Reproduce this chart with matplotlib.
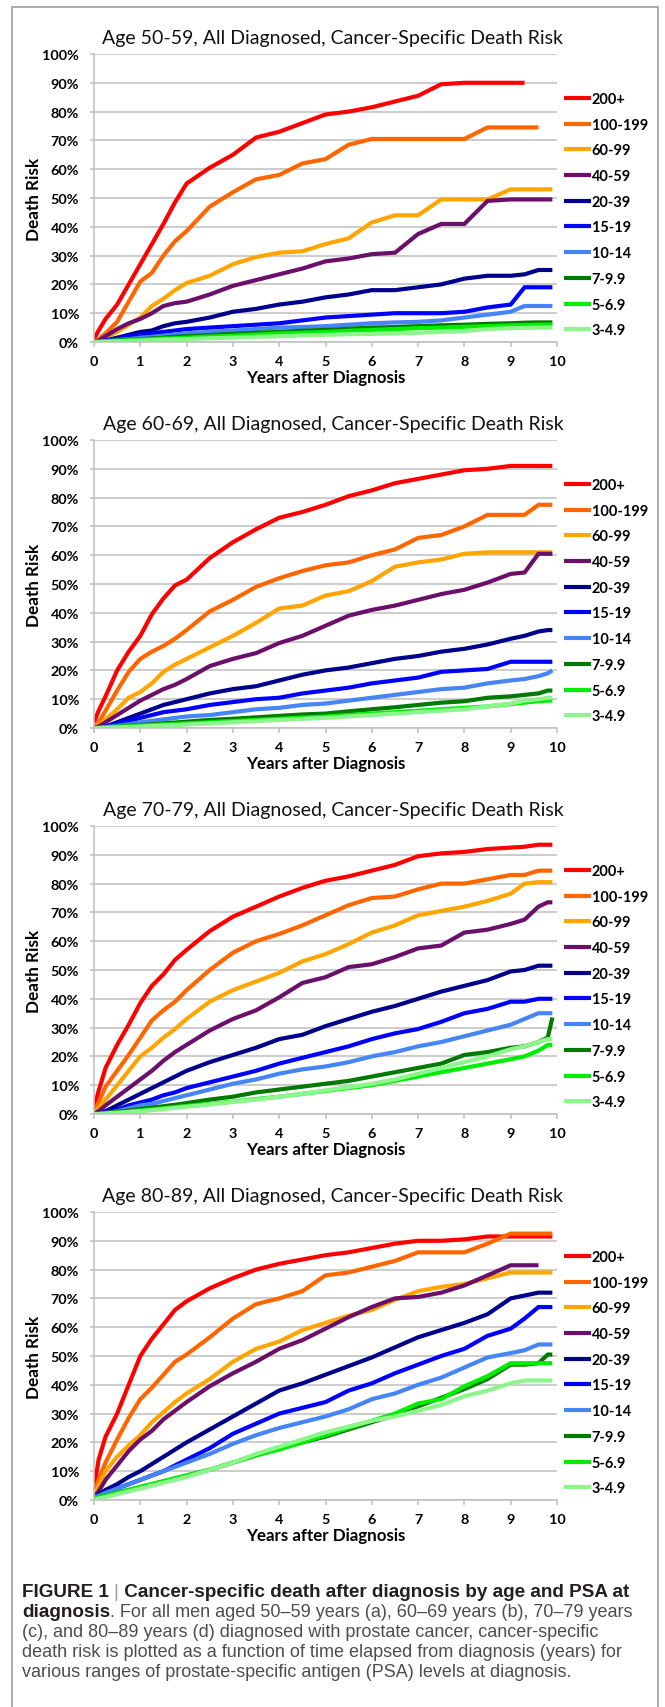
"""
Figure 1 - cancer-specific death risk after diagnosis, by age and PSA.

Four stacked panels (ages 50-59 .. 80-89), one curve per PSA range,
plus the caption box at the bottom.
"""

import matplotlib

matplotlib.use("Agg")
import matplotlib.pyplot as plt
import numpy as np
from matplotlib.patches import Rectangle
from matplotlib.ticker import FuncFormatter, MultipleLocator

W_PX, H_PX, DPI = 665, 1708, 100
nan = np.nan

YEARS = [0, 0.1, 0.25, 0.5, 0.75, 1, 1.25, 1.5, 1.75, 2, 2.5, 3, 3.5, 4, 4.5,
         5, 5.5, 6, 6.5, 7, 7.5, 8, 8.5, 9, 9.3, 9.6, 9.8, 9.9]

PSA_RANGES = ["200+", "100-199", "60-99", "40-59", "20-39", "15-19",
              "10-14", "7-9.9", "5-6.9", "3-4.9"]
COLORS = ["#FF0000", "#FF6600", "#FFA500", "#6B0F6B", "#00008B", "#0000FF",
          "#4585F5", "#007A00", "#00EE00", "#8CF58C"]
AGE_GROUPS = ["50-59", "60-69", "70-79", "80-89"]

# death risk (%) per PSA range, same order as PSA_RANGES
RISK_50_59 = [
    [1, 4, 8, 13, 20, 27, 34, 41, 48.5, 55, 60.5, 65, 71, 73, 76, 79, 80, 81.5, 83.5, 85.5, 89.5, 90, 90, 90, 90, nan, nan, nan],
    [0, 1, 3, 7, 14, 21, 24, 30, 35, 38.5, 47, 52, 56.5, 58, 62, 63.5, 68.5, 70.5, 70.5, 70.5, 70.5, 70.5, 74.5, 74.5, 74.5, 74.5, nan, nan],
    [0, 0.5, 1.5, 3.5, 6, 8.5, 12.5, 15, 18, 20.5, 23, 27, 29.5, 31, 31.5, 34, 36, 41.5, 44, 44, 49.5, 49.5, 49.5, 53, 53, 53, 53, 53],
    [0, 0.5, 2, 4.5, 6.5, 8, 10, 12.5, 13.5, 14, 16.5, 19.5, 21.5, 23.5, 25.5, 28, 29, 30.5, 31, 37.5, 41, 41, 49, 49.5, 49.5, 49.5, 49.5, 49.5],
    [0, 0, 0.5, 1.5, 2.5, 3.5, 4, 5.5, 6.5, 7, 8.5, 10.5, 11.5, 13, 14, 15.5, 16.5, 18, 18, 19, 20, 22, 23, 23, 23.5, 25, 25, 25],
    [0, 0, 0.5, 1, 2, 2.5, 3, 3.5, 4, 4.5, 5, 5.5, 6, 6.5, 7.5, 8.5, 9, 9.5, 10, 10, 10, 10.5, 12, 13, 19, 19, 19, 19],
    [0, 0, 0.3, 0.7, 1, 1.5, 1.8, 2.2, 2.6, 3, 3.5, 4, 4.5, 5, 5.2, 5.5, 6, 6.5, 6.8, 7, 7.5, 8.5, 9.5, 10.5, 12.5, 12.5, 12.5, 12.5],
    [0, 0.1, 0.3, 0.5, 0.8, 1, 1.2, 1.5, 1.8, 2, 2.4, 2.8, 3.2, 3.5, 3.9, 4.2, 4.6, 5, 5.2, 5.5, 5.8, 6, 6.3, 6.5, 6.7, 6.8, 6.8, 6.8],
    [0, 0.1, 0.2, 0.4, 0.6, 0.8, 1, 1.2, 1.3, 1.5, 1.9, 2.2, 2.6, 3, 3.2, 3.5, 3.9, 4.2, 4.5, 4.8, 5, 5.3, 5.5, 5.8, 5.9, 6, 6, 6],
    [0, 0, 0.1, 0.2, 0.4, 0.5, 0.6, 0.8, 0.9, 1, 1.3, 1.5, 1.8, 2, 2.3, 2.5, 2.7, 2.8, 3, 3.2, 3.5, 3.8, 4.5, 4.8, 4.9, 5, 5, 5],
]

RISK_60_69 = [
    [2, 6, 11, 20, 26.5, 32, 39.5, 45, 49.5, 51.5, 59, 64.5, 69, 73, 75, 77.5, 80.5, 82.5, 85, 86.5, 88, 89.5, 90, 91, 91, 91, 91, 91],
    [0, 2, 6, 13, 19.5, 24, 26.5, 28.5, 31, 34, 40.5, 44.5, 49, 52, 54.5, 56.5, 57.5, 60, 62, 66, 67, 70, 74, 74, 74, 77.5, 77.5, 77.5],
    [0, 1, 3, 6.5, 10.5, 12.5, 15.5, 19.5, 22, 24, 28, 32, 36.5, 41.5, 42.5, 46, 47.5, 51, 56, 57.5, 58.5, 60.5, 61, 61, 61, 61, 61, 61],
    [0, 0.5, 2, 4.5, 7, 9.5, 11.5, 13.5, 15, 17, 21.5, 24, 26, 29.5, 32, 35.5, 39, 41, 42.5, 44.5, 46.5, 48, 50.5, 53.5, 54, 60.5, 60.5, 60.5],
    [0, 0, 0.5, 2, 3.5, 5, 6.5, 8, 9, 10, 12, 13.5, 14.5, 16.5, 18.5, 20, 21, 22.5, 24, 25, 26.5, 27.5, 29, 31, 32, 33.5, 34, 34],
    [0, 0, 0.5, 1.5, 2.5, 3.5, 4.5, 5.5, 6, 6.5, 8, 9, 10, 10.5, 12, 13, 14, 15.5, 16.5, 17.5, 19.5, 20, 20.5, 23, 23, 23, 23, 23],
    [0, 0, 0.3, 0.8, 1.3, 2, 2.5, 3, 3.5, 4, 4.5, 5.5, 6.5, 7, 8, 8.5, 9.5, 10.5, 11.5, 12.5, 13.5, 14, 15.5, 16.5, 17, 18, 19, 20],
    [0, 0, 0.2, 0.5, 0.8, 1, 1.3, 1.6, 1.9, 2.2, 2.8, 3.2, 3.7, 4.2, 4.7, 5, 5.8, 6.5, 7.2, 8, 8.8, 9.3, 10.5, 11, 11.5, 12, 13, 13],
    [0, 0, 0.2, 0.4, 0.6, 0.8, 1, 1.2, 1.4, 1.6, 2, 2.4, 2.8, 3.2, 3.6, 4, 4.5, 5, 5.5, 6, 6.5, 7, 7.5, 8.3, 8.8, 9.3, 9.5, 9.5],
    [0, 0, 0.1, 0.2, 0.4, 0.5, 0.7, 0.9, 1, 1.2, 1.6, 2, 2.4, 2.8, 3.2, 3.5, 4, 4.5, 5, 5.5, 6, 6.5, 7.5, 8.5, 9.5, 10, 10.5, 10.5],
]

RISK_70_79 = [
    [2, 8, 16, 24, 31, 38.5, 44.5, 48.5, 53.5, 57, 63.5, 68.5, 72, 75.5, 78.5, 81, 82.5, 84.5, 86.5, 89.5, 90.5, 91, 92, 92.5, 92.8, 93.5, 93.5, 93.5],
    [1, 4, 9.5, 15, 20.5, 26.5, 32.5, 36, 39, 43, 50, 56, 60, 62.5, 65.5, 69, 72.5, 75, 75.5, 78, 80, 80, 81.5, 83, 83, 84.5, 84.5, 84.5],
    [0.5, 2, 5, 10, 15, 20, 23, 26.5, 29.5, 33, 39, 43, 46, 49, 53, 55.5, 59, 63, 65.5, 69, 70.5, 72, 74, 76.5, 80, 80.5, 80.5, 80.5],
    [0, 1, 3, 6, 9, 12, 15, 18.5, 21.5, 24, 29, 33, 36, 40.5, 45.5, 47.5, 51, 52, 54.5, 57.5, 58.5, 63, 64, 66, 67.5, 72, 73.5, 73.5],
    [0, 0, 1, 3, 5, 7, 9, 11, 13, 15, 18, 20.5, 23, 26, 27.5, 30.5, 33, 35.5, 37.5, 40, 42.5, 44.5, 46.5, 49.5, 50, 51.5, 51.5, 51.5],
    [0, 0, 0.5, 1.5, 3, 4, 5, 6.5, 7.5, 9, 11, 13, 15, 17.5, 19.5, 21.5, 23.5, 26, 28, 29.5, 32, 35, 36.5, 39, 39, 40, 40, 40],
    [0, 0, 0.3, 1, 2, 3, 3.5, 4.5, 5.5, 6.5, 8.5, 10.5, 12, 14, 15.5, 16.5, 18, 20, 21.5, 23.5, 25, 27, 29, 31, 33, 35, 35, 35],
    [0, 0, 0.3, 0.8, 1.2, 1.7, 2.2, 2.7, 3.2, 3.8, 5, 6, 7.5, 8.5, 9.5, 10.5, 11.5, 13, 14.5, 16, 17.5, 20.5, 21.5, 23, 23.5, 25, 26.5, 33.5],
    [0, 0, 0.2, 0.5, 0.8, 1.2, 1.6, 2, 2.4, 2.8, 3.5, 4.3, 5.2, 6, 7, 8, 9, 10, 11.5, 13, 14.5, 16, 17.5, 19, 20, 22, 24, 24],
    [0, 0, 0.2, 0.4, 0.7, 1, 1.3, 1.7, 2.1, 2.5, 3.3, 4.2, 5, 6, 7, 8.2, 9.3, 10.5, 12, 14, 16, 18, 20, 22.5, 23.5, 25, 26, 26],
]

RISK_80_89 = [
    [4, 14, 22, 30, 40, 50, 56, 61, 66, 69, 73.5, 77, 80, 82, 83.5, 85, 86, 87.5, 89, 90, 90, 90.5, 91.5, 91.5, 91.5, 91.5, 91.5, 91.5],
    [2, 7, 13, 21, 28.5, 35, 39, 43.5, 48, 50.5, 56.5, 63, 68, 70, 72.5, 78, 79, 81, 83, 86, 86, 86, 89, 92.5, 92.5, 92.5, 92.5, 92.5],
    [1, 5, 10, 15, 19, 22.5, 27, 30.5, 34, 37, 42, 48, 52.5, 55, 59, 61.5, 64, 66, 69.5, 72.5, 74, 75, 77, 79, 79, 79, 79, 79],
    [1, 3, 7, 12, 17, 21, 24, 28, 31, 34, 39.5, 44, 48, 52.5, 55.5, 59.5, 63.5, 67, 70, 70.5, 72, 74.5, 78, 81.5, 81.5, 81.5, nan, nan],
    [1, 2, 3.5, 5.5, 8, 10, 12.5, 15, 17.5, 20, 24.5, 29, 33.5, 38, 40.5, 43.5, 46.5, 49.5, 53, 56.5, 59, 61.5, 64.5, 70, 71, 72, 72, 72],
    [1, 1.5, 2.5, 4, 5.5, 7, 8.5, 10, 12, 14, 18, 23, 26.5, 30, 32, 34, 38, 40.5, 44, 47, 50, 52.5, 57, 59.5, 63, 67, 67, 67],
    [1, 1.5, 2.5, 4, 5.5, 7, 8.5, 10, 11.5, 13, 16, 19.5, 22.5, 25, 27, 29, 31.5, 35, 37, 40, 42.5, 46, 49.5, 51, 52, 54, 54, 54],
    [0.5, 1, 1.5, 2.5, 3.5, 4.5, 5.5, 6.5, 7.5, 8.5, 10.5, 13, 15.5, 18, 20, 22, 24.5, 27, 29.5, 32.5, 35.5, 38.5, 42, 47, 47, 47.5, 50.5, 50.5],
    [0.5, 1, 1.5, 2.5, 3.5, 4.5, 5.5, 6.5, 7.5, 8.5, 10.5, 13, 15.5, 17.5, 20, 22.5, 25, 27.5, 30, 33.5, 35, 39.5, 43, 47.5, 47.5, 47.5, 47.5, 47.5],
    [0, 0.5, 1, 2, 3, 4, 5, 6, 7, 8, 10.5, 13, 16, 18.5, 21, 23.5, 25.5, 27.5, 29, 31, 33, 36, 38, 40.5, 41.5, 41.5, 41.5, 41.5],
]

RISKS = [RISK_50_59, RISK_60_69, RISK_70_79, RISK_80_89]

CAPTION = [
    [("FIGURE 1", "bold", "#231F20"), (" |", "normal", "#9A9A9A"),
     (" Cancer-specific death after diagnosis by age and PSA at", "bold", "#231F20")],
    [("diagnosis", "bold", "#231F20"),
     (". For all men aged 50\u201359 years (a), 60\u201369 years (b), 70\u201379 years", "normal", "#4D4D4D")],
    [("(c), and 80\u201389 years (d) diagnosed with prostate cancer, cancer-specific", "normal", "#4D4D4D")],
    [("death risk is plotted as a function of time elapsed from diagnosis (years) for", "normal", "#4D4D4D")],
    [("various ranges of prostate-specific antigen (PSA) levels at diagnosis.", "normal", "#4D4D4D")],
]

CHART_FONT = "Lato"
CAPTION_FONT = "Liberation Sans"
GRID_GRAY = "#BFBFBF"
PANEL_TOP, PANEL_STEP, PANEL_H = 55, 386, 288
AX_LEFT, AX_W = 94, 463


def px_box(left, top, width, height):
    """Pixel box (from the top-left corner) -> figure fraction rect."""
    return [left / W_PX, 1 - (top + height) / H_PX, width / W_PX, height / H_PX]


def fitted_size(fig, text, target_px, **font):
    """Font size (pt) that makes `text` about target_px wide."""
    probe = fig.text(0, 0, text, fontsize=10, **font)
    width = probe.get_window_extent(fig.canvas.get_renderer()).width
    probe.remove()
    return 10 * target_px / width


def add_legend(fig, ax, lines, size):
    """Legend at the right of the panel, rows 25.7 px apart."""
    fs_px = size * DPI / 72
    spacing, anchor_y = 0.6, 1 - 159.5 / PANEL_H
    opts = dict(loc="center left", frameon=False, borderpad=0, borderaxespad=0,
                handlelength=27 / fs_px, handletextpad=0.05,
                prop={"family": CHART_FONT, "weight": "bold", "size": size})
    for _ in range(3):
        leg = ax.legend(handles=lines, bbox_to_anchor=(470 / AX_W, anchor_y),
                        labelspacing=spacing, **opts)
        fig.canvas.draw()
        boxes = [t.get_window_extent() for t in leg.get_texts()]
        centers = [0.5 * (b.y0 + b.y1) for b in boxes]
        pitch = (centers[0] - centers[-1]) / (len(centers) - 1)
        spacing += (25.7 - pitch) / fs_px
        ax_box = ax.get_window_extent()
        anchor_y += (ax_box.y1 - 45 - centers[0]) / ax_box.height
    ax.legend(handles=lines, bbox_to_anchor=(470 / AX_W, anchor_y),
              labelspacing=spacing, **opts)


def draw_panel(fig, index, sizes):
    top = PANEL_TOP + PANEL_STEP * index
    ax = fig.add_axes(px_box(AX_LEFT, top, AX_W, PANEL_H))

    lines = []
    for label, color, values in zip(PSA_RANGES, COLORS, RISKS[index]):
        (line,) = ax.plot(YEARS, values, color=color, lw=3.0, label=label,
                          solid_joinstyle="miter", solid_capstyle="butt")
        lines.append(line)

    ax.set_xlim(0, 10)
    ax.set_ylim(0, 100)
    ax.xaxis.set_major_locator(MultipleLocator(1))
    ax.yaxis.set_major_locator(MultipleLocator(10))
    ax.yaxis.set_major_formatter(FuncFormatter(lambda v, _: f"{v:.0f}%"))
    ax.yaxis.grid(True, color=GRID_GRAY, lw=1.1)
    ax.set_axisbelow(True)

    for side in ("top", "right"):
        ax.spines[side].set_visible(False)
    for side in ("left", "bottom"):
        ax.spines[side].set_color(GRID_GRAY)
        ax.spines[side].set_linewidth(1.1)

    ax.tick_params(axis="y", length=2.9, width=1.1, color=GRID_GRAY, pad=7.9)
    ax.tick_params(axis="x", length=3.6, width=1.1, color=GRID_GRAY, pad=6.0)
    for lab in ax.get_xticklabels() + ax.get_yticklabels():
        lab.set_fontfamily(CHART_FONT)
        lab.set_fontweight("bold")
        lab.set_fontsize(sizes["tick"])

    ax.set_title(f"Age {AGE_GROUPS[index]}, All Diagnosed, Cancer-Specific Death Risk",
                 x=0.516, pad=7.6, fontsize=sizes["title"], family=CHART_FONT,
                 color="#111111")
    ax.set_xlabel("Years after Diagnosis", family=CHART_FONT, fontweight="bold",
                  fontsize=sizes["xlabel"], va="center")
    ax.xaxis.set_label_coords(0.5, -35 / PANEL_H)
    ax.set_ylabel("Death Risk", family=CHART_FONT, fontweight="bold",
                  fontsize=sizes["ylabel"], va="center")
    ax.yaxis.set_label_coords(-60 / AX_W, 0.5)

    add_legend(fig, ax, lines, sizes["legend"])


def draw_caption(fig, bold_size, plain_size):
    renderer = fig.canvas.get_renderer()
    to_fig = fig.transFigure.inverted()
    for row, segments in enumerate(CAPTION):
        y = 1 - (1593 + 20 * row) / H_PX
        x = 22 / W_PX
        for text, weight, color in segments:
            size = bold_size if weight == "bold" else plain_size
            t = fig.text(x, y, text, family=CAPTION_FONT, fontweight=weight,
                         color=color, fontsize=size, va="center", ha="left")
            x1 = t.get_window_extent(renderer).x1
            x = to_fig.transform((x1, 0))[0]


def main():
    fig = plt.figure(figsize=(W_PX / DPI, H_PX / DPI), dpi=DPI)
    fig.patch.set_facecolor("white")

    bold = {"family": CHART_FONT, "fontweight": "bold"}
    sizes = {
        "title": fitted_size(fig, "Age 50-59, All Diagnosed, Cancer-Specific Death Risk",
                             460, family=CHART_FONT),
        "tick": fitted_size(fig, "100%", 37, **bold),
        "xlabel": fitted_size(fig, "Years after Diagnosis", 160, **bold),
        "ylabel": fitted_size(fig, "Death Risk", 83, **bold),
        "legend": fitted_size(fig, "100-199", 56, **bold),
    }
    caption_bold = fitted_size(
        fig, "FIGURE 1 | Cancer-specific death after diagnosis by age and PSA at",
        606, family=CAPTION_FONT, fontweight="bold")
    caption_plain = fitted_size(
        fig, CAPTION[3][0][0], 603, family=CAPTION_FONT, fontweight="normal")

    for index in range(len(AGE_GROUPS)):
        draw_panel(fig, index, sizes)

    fig.add_artist(Rectangle((12 / W_PX, -0.01), 646 / W_PX, 1.01 - 8 / H_PX,
                             transform=fig.transFigure, fill=False,
                             edgecolor="#A6A6A6", lw=1.3))
    draw_caption(fig, caption_bold, caption_plain)

    fig.savefig("out.png", dpi=DPI, facecolor="white")


if __name__ == "__main__":
    main()
